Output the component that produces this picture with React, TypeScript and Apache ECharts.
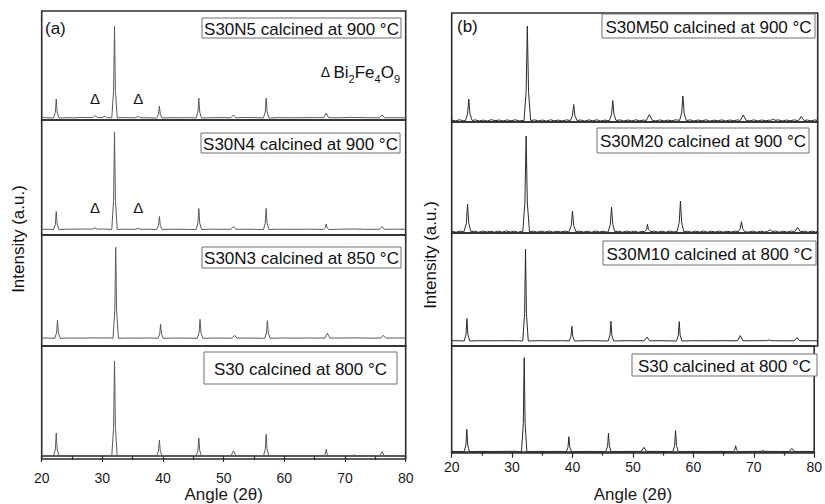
import React, { useEffect, useRef } from "react";
import * as echarts from "echarts";

const FONT = "'Liberation Sans', Arial, Helvetica, sans-serif";

// X axis (2θ) range and ticks
const xMin = 20;
const xMax = 80;
const xInterval = 10;

// Sample labels (top to bottom)
const labelsA = [
  "S30N5 calcined at 900 °C",
  "S30N4 calcined at 900 °C",
  "S30N3 calcined at 850 °C",
  "S30 calcined at 800 °C",
];
const labelsB = [
  "S30M50 calcined at 900 °C",
  "S30M20 calcined at 900 °C",
  "S30M10 calcined at 800 °C",
  "S30 calcined at 800 °C",
];

// Bi2Fe4O9 impurity positions (2θ)
const impurityPeaks = [28.8, 35.9];

// Diffraction patterns [2θ, intensity (a.u.)]
const s30n5: [number, number][] = [
  [20, 0.4], [21, 0.2], [21.95, 0], [22.25, 5.7], [22.4, 19], [22.55, 5.7], [22.85, 0],
  [24, 0.3], [25.5, 0.2], [26.5, 0.6], [27.5, 0.4], [28.4, 0.5], [28.8, 2.5], [29.2, 0.6],
  [29.8, 0.4], [30.1, 0.5], [30.4, 1.8], [30.7, 0.4], [31.2, 0.3],
  [31.55, 0], [31.85, 27.6], [32.0, 92], [32.15, 27.6], [32.45, 0],
  [33, 0.4], [34.5, 0.3], [35.5, 0.3], [35.9, 1.5], [36.3, 0.3], [37.5, 0.2],
  [38.95, 0], [39.25, 3.6], [39.4, 12], [39.55, 3.6], [39.85, 0],
  [41, 0.3], [43, 0.2], [44.5, 0.4],
  [45.45, 0], [45.75, 6], [45.9, 20], [46.05, 6], [46.35, 0],
  [48, 0.3], [50, 0.4], [51.2, 0.2], [51.6, 3], [52, 0.2], [53.5, 0.5], [55.5, 0.3],
  [56.55, 0], [56.85, 6], [57.0, 20], [57.15, 6], [57.45, 0],
  [59, 0.4], [61, 0.2], [63, 0.3], [65, 0.4], [66.5, 0.3], [66.9, 5], [67.3, 0.3],
  [69, 0.2], [71, 0.6], [72, 0.5], [73.5, 0.3], [75.7, 0.2], [76.1, 3], [76.5, 0.2],
  [78, 0.3], [80, 0.2],
];

const s30n4: [number, number][] = [
  [20, 0.3], [21, 0.2], [21.95, 0], [22.25, 5.4], [22.4, 18], [22.55, 5.4], [22.85, 0],
  [24, 0.3], [26, 0.4], [27.5, 0.5], [28.4, 0.4], [28.8, 1.5], [29.2, 0.4], [30.5, 0.5],
  [31.55, 0], [31.85, 29], [32.0, 97.5], [32.15, 29], [32.45, 0],
  [33.5, 0.3], [35.5, 0.2], [35.9, 1.2], [36.3, 0.2], [37.5, 0.3],
  [38.95, 0], [39.25, 3.9], [39.4, 13], [39.55, 3.9], [39.85, 0],
  [41.5, 0.3], [43.5, 0.2],
  [45.45, 0], [45.75, 6.3], [45.9, 21], [46.05, 6.3], [46.35, 0],
  [48, 0.3], [50, 0.2], [51.2, 0.2], [51.6, 3], [52, 0.2], [54, 0.3],
  [56.55, 0], [56.85, 6.3], [57.0, 21], [57.15, 6.3], [57.45, 0],
  [59, 0.3], [62, 0.2], [64.5, 0.3],
  [66.45, 0], [66.75, 1.7], [66.9, 5.5], [67.05, 1.7], [67.35, 0],
  [69, 0.3], [71.5, 0.5], [73.5, 0.2], [75.7, 0.2], [76.1, 3], [76.5, 0.2], [78, 0.3], [80, 0.2],
];

const s30n3: [number, number][] = [
  [20, 0.3], [21.5, 0.2], [22.15, 0], [22.45, 5.4], [22.6, 18], [22.75, 5.4], [23.05, 0],
  [24.5, 0.3], [26.5, 0.2], [28.5, 0.4], [30, 0.3], [31.3, 0.4],
  [31.75, 0], [32.05, 27.3], [32.2, 91], [32.35, 27.3], [32.65, 0],
  [34, 0.3], [36, 0.2], [38, 0.3],
  [39.15, 0], [39.45, 4.2], [39.6, 14], [39.75, 4.2], [40.05, 0],
  [42, 0.3], [44, 0.2],
  [45.65, 0], [45.95, 5.7], [46.1, 19], [46.25, 5.7], [46.55, 0],
  [48.5, 0.3], [50.5, 0.2], [51.4, 0.2], [51.8, 3], [52.2, 0.2], [54, 0.3],
  [56.75, 0], [57.05, 5.3], [57.2, 17.7], [57.35, 5.3], [57.65, 0],
  [59.5, 0.3], [62, 0.2], [64.5, 0.3], [66.7, 0.2], [67.1, 5], [67.5, 0.2],
  [69.5, 0.3], [71.5, 0.4], [74, 0.2], [75.9, 0.2], [76.3, 3], [76.7, 0.2], [78.5, 0.3], [80, 0.2],
];

const s30a: [number, number][] = [
  [20, 0.3], [21.5, 0.2], [21.95, 0], [22.25, 6.9], [22.4, 23], [22.55, 6.9], [22.85, 0],
  [24.5, 0.3], [26.5, 0.2], [28.5, 0.3], [30.5, 0.4],
  [31.55, 0], [31.85, 28.5], [32.0, 95], [32.15, 28.5], [32.45, 0],
  [34, 0.3], [36, 0.2], [38, 0.3],
  [38.95, 0], [39.25, 4.8], [39.4, 16], [39.55, 4.8], [39.85, 0],
  [42, 0.3], [44, 0.2],
  [45.45, 0], [45.75, 5.4], [45.9, 18], [46.05, 5.4], [46.35, 0],
  [48.5, 0.3], [50.5, 0.3], [51.2, 0.3], [51.6, 5], [52.0, 0.3], [54, 0.3],
  [56.55, 0], [56.85, 6.5], [57.0, 21.7], [57.15, 6.5], [57.45, 0],
  [59.5, 0.3], [62, 0.2], [64.5, 0.3],
  [66.45, 0], [66.75, 2], [66.9, 6.7], [67.05, 2], [67.35, 0],
  [69.5, 0.3], [71.1, 0.3], [71.5, 1], [71.9, 0.3], [74, 0.2],
  [75.7, 0.2], [76.1, 4.3], [76.5, 0.2], [78.5, 0.3], [80, 0.2],
];

const s30m50: [number, number][] = [
  [20, 0.5], [20.6, -0.4], [21.3, 0.7], [21.9, -0.3],
  [22.25, 0], [22.6, 6.5], [22.8, 21.5], [23.0, 6.5], [23.35, 0],
  [23.9, 0.6], [24.5, -0.5], [25.2, 0.4], [25.8, -0.6], [26.5, 0.8], [27.1, -0.2], [27.8, 0.5],
  [28.4, -0.5], [29.1, 0.6], [29.7, -0.3], [30.4, 0.7], [31.1, -0.4],
  [31.85, 0], [32.2, 28], [32.4, 94.5], [32.6, 28], [32.95, 0],
  [33.6, 0.6], [34.2, -0.4], [34.9, 0.5], [35.5, -0.6], [36.2, 0.7], [36.8, -0.3], [37.5, 0.4],
  [38.1, -0.5], [38.8, 0.6],
  [39.45, 0], [39.8, 4.8], [40.0, 16], [40.2, 4.8], [40.55, 0],
  [41.2, 0.5], [41.8, -0.6], [42.5, 0.6], [43.1, -0.3], [43.8, 0.7], [44.4, -0.5], [45.1, 0.4], [45.6, -0.2],
  [45.85, 0], [46.2, 6], [46.4, 20], [46.6, 6], [46.95, 0],
  [47.6, 0.6], [48.2, -0.5], [48.9, 0.5], [49.5, -0.4], [50.2, 0.7], [50.8, -0.3], [51.5, 0.5],
  [51.9, 0], [52.4, 6], [52.9, 0],
  [53.5, -0.4], [54.1, 0.6], [54.8, -0.5], [55.4, 0.4], [56.1, -0.3], [56.7, 0.7], [57.2, 0.2],
  [57.35, 0], [57.7, 7.4], [57.9, 24.5], [58.1, 7.4], [58.45, 0],
  [59.1, 0.6], [59.7, -0.5], [60.4, 0.5], [61.0, -0.3], [61.7, 0.7], [62.3, -0.6], [63.0, 0.4],
  [63.6, -0.3], [64.3, 0.6], [64.9, -0.5], [65.6, 0.5], [66.2, -0.2], [66.9, 0.6],
  [67.3, 0], [67.8, 5.5], [68.3, 0],
  [68.9, -0.4], [69.5, 0.6], [70.2, -0.5], [70.8, 0.5], [71.5, -0.3], [72.1, 0.4],
  [72.4, 0.2], [72.7, 1.5], [73.0, 0.2],
  [73.6, 0.6], [74.2, -0.5], [74.9, 0.5], [75.5, -0.3], [76.2, 0.7], [76.7, -0.2],
  [76.85, 0], [77.3, 4], [77.75, 0],
  [78.3, 0.5], [78.9, -0.4], [79.5, 0.6], [80, 0],
];

const s30m20: [number, number][] = [
  [20, 0.4], [20.7, -0.5], [21.4, 0.6], [22.0, -0.2],
  [22.05, 0], [22.4, 8.3], [22.6, 27.7], [22.8, 8.3], [23.15, 0],
  [23.8, 0.5], [24.4, -0.6], [25.1, 0.7], [25.7, -0.3], [26.4, 0.5], [27.0, -0.5], [27.7, 0.6],
  [28.3, -0.4], [29.0, 0.8], [29.6, -0.3], [30.3, 0.5], [30.9, -0.6], [31.4, 0.4],
  [31.65, 0], [32.0, 28.7], [32.2, 95.7], [32.4, 28.7], [32.75, 0],
  [33.4, 0.6], [34.0, -0.5], [34.7, 0.6], [35.3, -0.4], [36.0, 0.7], [36.6, -0.5], [37.3, 0.4],
  [37.9, -0.3], [38.6, 0.6], [39.1, -0.2],
  [39.25, 0], [39.6, 6.2], [39.8, 20.7], [40.0, 6.2], [40.35, 0],
  [41.0, 0.6], [41.6, -0.4], [42.3, 0.5], [42.9, -0.6], [43.6, 0.7], [44.2, -0.3], [44.9, 0.5], [45.4, -0.4],
  [45.65, 0], [46.0, 7.3], [46.2, 24.4], [46.4, 7.3], [46.75, 0],
  [47.4, 0.5], [48.0, -0.5], [48.7, 0.7], [49.3, -0.3], [50.0, 0.5], [50.6, -0.6], [51.2, 0.4],
  [51.6, 0], [51.95, 2.2], [52.1, 7.4], [52.25, 2.2], [52.6, 0],
  [53.2, 0.6], [53.8, -0.4], [54.5, 0.5], [55.1, -0.5], [55.8, 0.7], [56.4, -0.3], [56.8, 0.3],
  [56.95, 0], [57.3, 9.2], [57.5, 30.7], [57.7, 9.2], [58.05, 0],
  [58.7, 0.5], [59.3, -0.5], [60.0, 0.6], [60.6, -0.4], [61.3, 0.7], [61.9, -0.5], [62.6, 0.5],
  [63.2, -0.3], [63.9, 0.6], [64.5, -0.5], [65.2, 0.4], [65.8, -0.3], [66.5, 0.6],
  [66.95, 0], [67.3, 3], [67.5, 10], [67.7, 3], [68.05, 0],
  [68.7, -0.4], [69.3, 0.6], [70.0, -0.5], [70.6, 0.5], [71.3, -0.3], [71.8, 0.4],
  [71.9, 0.3], [72.2, 2], [72.5, 0.3],
  [73.1, 0.6], [73.7, -0.5], [74.4, 0.5], [75.0, -0.4], [75.7, 0.7], [76.1, -0.2],
  [76.25, 0], [76.7, 4.4], [77.15, 0],
  [77.8, 0.5], [78.4, -0.5], [79.1, 0.6], [79.6, -0.3], [80, 0.2],
];

const s30m10: [number, number][] = [
  [20, 0.3], [21.5, 0.2], [22.05, 0], [22.35, 6.7], [22.5, 22.4], [22.65, 6.7], [22.95, 0],
  [24.5, 0.3], [26.5, 0.2], [28.5, 0.3], [30.5, 0.3],
  [31.65, 0], [31.95, 27.5], [32.1, 91.7], [32.25, 27.5], [32.55, 0],
  [34, 0.3], [36, 0.2], [38, 0.3],
  [39.25, 0], [39.55, 4.4], [39.7, 14.7], [39.85, 4.4], [40.15, 0],
  [42, 0.3], [44, 0.2],
  [45.65, 0], [45.95, 5.9], [46.1, 19.7], [46.25, 5.9], [46.55, 0],
  [48.5, 0.3], [50.5, 0.2], [51.55, 0.2], [52.0, 4], [52.45, 0.2], [54, 0.3],
  [56.85, 0], [57.15, 5.8], [57.3, 19.4], [57.45, 5.8], [57.75, 0],
  [59.5, 0.3], [62, 0.2], [64.5, 0.3], [66.85, 0.2], [67.3, 5.4], [67.75, 0.2],
  [69.5, 0.3], [71.6, 0.3], [72.0, 1], [72.4, 0.3], [74, 0.2],
  [76.15, 0.2], [76.6, 3.4], [77.05, 0.2], [78.5, 0.3], [80, 0.2],
];

const s30b: [number, number][] = [
  [20, 0.3], [21.5, 0.2], [22.05, 0], [22.35, 6.7], [22.5, 22.4], [22.65, 6.7], [22.95, 0],
  [24.5, 0.3], [26.5, 0.2], [28.5, 0.3], [30.5, 0.4],
  [31.55, 0], [31.85, 28.2], [32.0, 94], [32.15, 28.2], [32.45, 0],
  [34, 0.3], [36, 0.2], [38, 0.3],
  [38.95, 0], [39.25, 4.5], [39.4, 15], [39.55, 4.5], [39.85, 0],
  [42, 0.3], [44, 0.2],
  [45.5, 0], [45.8, 5.5], [45.95, 18.4], [46.1, 5.5], [46.4, 0],
  [48.5, 0.3], [50.5, 0.3], [51.35, 0.3], [51.8, 4.4], [52.25, 0.3], [54, 0.3],
  [56.6, 0], [56.9, 6.3], [57.05, 21], [57.2, 6.3], [57.5, 0],
  [59.5, 0.3], [62, 0.2], [64.5, 0.3],
  [66.55, 0], [66.85, 1.8], [67.0, 6], [67.15, 1.8], [67.45, 0],
  [69.5, 0.3], [71.1, 0.3], [71.5, 1], [71.9, 0.3], [74, 0.2],
  [75.85, 0.2], [76.3, 3.4], [76.75, 0.2], [78.5, 0.3], [80, 0.2],
];

const seriesA = [s30n5, s30n4, s30n3, s30a];
const seriesB = [s30m50, s30m20, s30m10, s30b];

// Layout (pixels)
const panelA = { left: 41.7, width: 364, rows: [[11, 109, 2], [120, 115, 5.5], [235, 111, 7.7], [346, 113, 3]] };
const panelB = { left: 451.7, width: 366, rows: [[13, 109, 1.5], [122, 111, 1.3], [233, 113, 5], [346, 107, 1.3]] };
const boxesA = [[202, 18, 199, 20], [201, 133, 199, 20], [202, 247, 199, 21], [204, 352, 193, 32]];
const boxesB = [[602, 14, 213, 24], [597, 128, 212, 25], [603, 241, 213, 24], [632, 354, 185, 22]];

export default function App() {
  const ref = useRef<HTMLDivElement>(null);

  useEffect(() => {
    if (!ref.current) return;
    const chart = echarts.init(ref.current, null, { renderer: "svg" });

    const grids: any[] = [];
    const xAxes: any[] = [];
    const yAxes: any[] = [];
    const series: any[] = [];
    const graphics: any[] = [];

    const panels = [
      { p: panelA, data: seriesA, color: "#5a5a5a", labelMargin: 12, nameGap: 27, labels: labelsA, boxes: boxesA },
      { p: panelB, data: seriesB, color: "#2a2a2a", labelMargin: 7, nameGap: 33, labels: labelsB, boxes: boxesB },
    ];

    panels.forEach((panel, pi) => {
      panel.p.rows.forEach((row, ri) => {
        const [top, h, base] = row;
        const idx = grids.length;
        const isBottom = ri === panel.p.rows.length - 1;
        grids.push({
          left: panel.p.left,
          top,
          width: panel.p.width,
          height: h,
          show: true,
          borderColor: "#2b2b2b",
          borderWidth: 1.6,
          backgroundColor: "transparent",
        });
        xAxes.push({
          type: "value",
          gridIndex: idx,
          min: xMin,
          max: xMax,
          interval: xInterval,
          show: isBottom,
          axisLine: { show: true, lineStyle: { color: "#2b2b2b", width: 1.6 } },
          axisTick: { show: true, length: 6, lineStyle: { color: "#2b2b2b", width: 1.2 } },
          minorTick: { show: true, splitNumber: 2, length: 4, lineStyle: { color: "#2b2b2b", width: 1.2 } },
          axisLabel: { show: true, fontSize: 14, color: "#1a1a1a", fontFamily: FONT, margin: panel.labelMargin },
          splitLine: { show: false },
          name: isBottom ? "Angle (2θ)" : "",
          nameLocation: "middle",
          nameGap: panel.nameGap,
          nameTextStyle: { fontSize: 17, color: "#1a1a1a", fontFamily: FONT },
        });
        yAxes.push({
          type: "value",
          gridIndex: idx,
          min: -base,
          max: h - base,
          show: false,
        });
        series.push({
          type: "line",
          xAxisIndex: idx,
          yAxisIndex: idx,
          data: panel.data[ri],
          showSymbol: false,
          symbol: "none",
          lineStyle: { color: panel.color, width: 1 },
          silent: true,
        });
      });

      panel.boxes.forEach((b, bi) => {
        const [x, y, w, h] = b;
        graphics.push({
          type: "rect",
          shape: { x, y, width: w, height: h },
          style: { fill: "#fff", stroke: "#6e6e6e", lineWidth: 1 },
          z: 10,
        });
        graphics.push({
          type: "text",
          x: x + w / 2,
          y: y + h / 2 + 1,
          style: {
            text: panel.labels[bi],
            fontSize: 17,
            fontFamily: FONT,
            fill: "#111",
            align: "center",
            verticalAlign: "middle",
          },
          z: 11,
        });
      });
    });

    // panel tags
    graphics.push({
      type: "text", x: 45, y: 28,
      style: { text: "(a)", fontSize: 17, fontFamily: FONT, fill: "#111", verticalAlign: "middle" }, z: 11,
    });
    graphics.push({
      type: "text", x: 457, y: 26,
      style: { text: "(b)", fontSize: 17, fontFamily: FONT, fill: "#111", verticalAlign: "middle" }, z: 11,
    });
    // y axis titles
    graphics.push({
      type: "text", x: 18, y: 239, rotation: Math.PI / 2,
      style: { text: "Intensity (a.u.)", fontSize: 17, fontFamily: FONT, fill: "#111", align: "center", verticalAlign: "middle" },
    });
    graphics.push({
      type: "text", x: 430, y: 255, rotation: Math.PI / 2,
      style: { text: "Intensity (a.u.)", fontSize: 17, fontFamily: FONT, fill: "#111", align: "center", verticalAlign: "middle" },
    });
    // Bi2Fe4O9 legend
    graphics.push({
      type: "text", x: 400, y: 72,
      style: {
        text: "{d|Δ} {n|Bi}{s|2}{n|Fe}{s|4}{n|O}{s|9}",
        fontFamily: FONT,
        fill: "#111",
        align: "right",
        verticalAlign: "middle",
        rich: {
          d: { fontSize: 14, lineHeight: 24, verticalAlign: "middle", fontFamily: FONT, fill: "#111" },
          n: { fontSize: 17, lineHeight: 24, verticalAlign: "middle", fontFamily: FONT, fill: "#111" },
          s: { fontSize: 11, lineHeight: 24, verticalAlign: "bottom", fontFamily: FONT, fill: "#111" },
        },
      },
      z: 11,
    });

    const option: any = {
      animation: false,
      backgroundColor: "#ffffff",
      grid: grids,
      xAxis: xAxes,
      yAxis: yAxes,
      series,
      graphic: graphics,
    };
    chart.setOption(option);

    // Δ markers placed in data coordinates of the two top panel-(a) plots
    const markerLevels = [20, 22.5];
    const extra: any[] = [];
    markerLevels.forEach((lvl, gi) => {
      impurityPeaks.forEach((xv) => {
        const pt = chart.convertToPixel({ gridIndex: gi } as any, [xv, lvl]) as number[];
        extra.push({
          type: "text", x: pt[0], y: pt[1],
          style: { text: "Δ", fontSize: 15, fontFamily: FONT, fill: "#111", align: "center", verticalAlign: "middle" },
          z: 11,
        });
      });
    });
    chart.setOption({ graphic: [...graphics, ...extra] });

    return () => chart.dispose();
  }, []);

  return <div ref={ref} style={{ position: "fixed", left: 0, top: 0, width: 825, height: 504 }} />;
}
